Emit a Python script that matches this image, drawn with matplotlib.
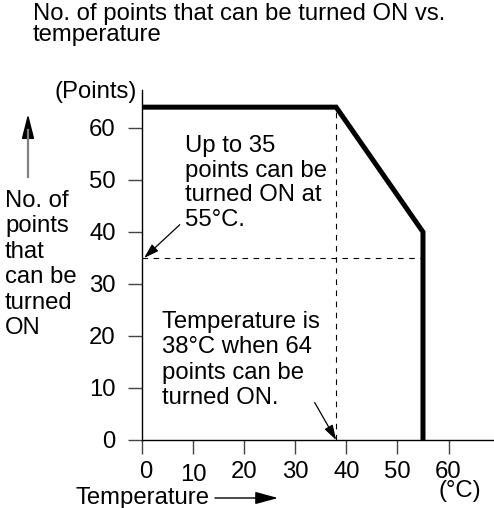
import matplotlib.pyplot as plt
from matplotlib.patches import FancyArrowPatch
from matplotlib.transforms import ScaledTranslation

plt.rcParams["font.family"] = ["Liberation Sans", "DejaVu Sans"]

# 温度 - 可同时ON点数 的折线
temp = [0, 38, 55, 55]
points = [64, 64, 40, 0]

x_ticks = [0, 10, 20, 30, 40, 50, 60]
y_ticks = [0, 10, 20, 30, 40, 50, 60]

fs = 17.2

fig = plt.figure(figsize=(4.94, 5.08), dpi=100)
ax = fig.add_axes([142 / 494, 68 / 508, 352 / 494, 350 / 508])

ax.plot(temp, points, color="black", lw=3.6, solid_joinstyle="miter",
        solid_capstyle="butt", clip_on=False, zorder=3)

# 辅助虚线
ax.plot([0, 55], [35, 35], color="black", lw=0.8, dashes=(5, 5))
ax.plot([38, 38], [0, 64], color="black", lw=0.8, dashes=(5, 5))

ax.set_xlim(0, 68.9)
ax.set_ylim(0, 67.3)
ax.set_xticks(x_ticks)
ax.set_yticks(y_ticks)
ax.tick_params(labelsize=fs, length=10, width=1, color="#444444", pad=5)
ax.tick_params(axis="y", pad=9)
for s in ["top", "right"]:
    ax.spines[s].set_visible(False)
for s in ["left", "bottom"]:
    ax.spines[s].set_linewidth(1)

# 刻度标签的小偏移
xl = ax.get_xticklabels()
xl[0].set_transform(xl[0].get_transform() + ScaledTranslation(4 / 100, 0, fig.dpi_scale_trans))
xl[1].set_transform(xl[1].get_transform() + ScaledTranslation(0, -3 / 100, fig.dpi_scale_trans))

fig.text(33 / 494, 1 - 3 / 508, "No. of points that can be turned ON vs.\ntemperature",
         fontsize=fs, ha="left", va="top", linespacing=0.97)

fig.text(137 / 494, 1 - 92 / 508, "(Points)", fontsize=fs, ha="right", va="center")

fig.text(5 / 494, 1 - 190 / 508, "No. of\npoints\nthat\ncan be\nturned\nON",
         fontsize=fs, ha="left", va="top", linespacing=1.2)

fig.text(75 / 494, 1 - 498 / 508, "Temperature", fontsize=fs, ha="left", va="center")
fig.text(481 / 494, 1 - 491 / 508, "(°C)", fontsize=fs, ha="right", va="center")

# 坐标轴方向箭头
fig.add_artist(plt.Line2D([28 / 494, 28 / 494], [1 - 177 / 508, 1 - 130 / 508],
                          transform=fig.transFigure, color="#808080", lw=1.6))
fig.add_artist(FancyArrowPatch(
    (28 / 494, 1 - 136 / 508), (28 / 494, 1 - 114 / 508), transform=fig.transFigure,
    arrowstyle="-|>,head_length=7.5,head_width=1.9", color="black", lw=1.2,
    mutation_scale=2, shrinkA=0, shrinkB=0))
fig.add_artist(FancyArrowPatch(
    (215 / 494, 1 - 498 / 508), (278 / 494, 1 - 498 / 508), transform=fig.transFigure,
    arrowstyle="-|>,head_length=7,head_width=1.9", color="black", lw=1,
    mutation_scale=2, shrinkA=0, shrinkB=0))

ax.text(8.4, 58.6, "Up to 35\npoints can be\nturned ON at\n55°C.",
        fontsize=fs, ha="left", va="top", linespacing=1.15)
ax.annotate("", xy=(0.4, 35), xytext=(7.4, 41.4),
            arrowprops=dict(arrowstyle="-|>,head_length=0.9,head_width=0.28", color="black",
                            lw=0.9, shrinkA=0, shrinkB=0, mutation_scale=10))

ax.text(4.0, 24.8, "Temperature is\n38°C when 64\npoints can be\nturned ON.",
        fontsize=fs, ha="left", va="top", linespacing=1.2)
ax.annotate("", xy=(38, 0), xytext=(33.8, 7.2),
            arrowprops=dict(arrowstyle="-|>,head_length=0.9,head_width=0.28", color="black",
                            lw=0.9, shrinkA=0, shrinkB=0, mutation_scale=10))

fig.savefig("out.png", dpi=100)
